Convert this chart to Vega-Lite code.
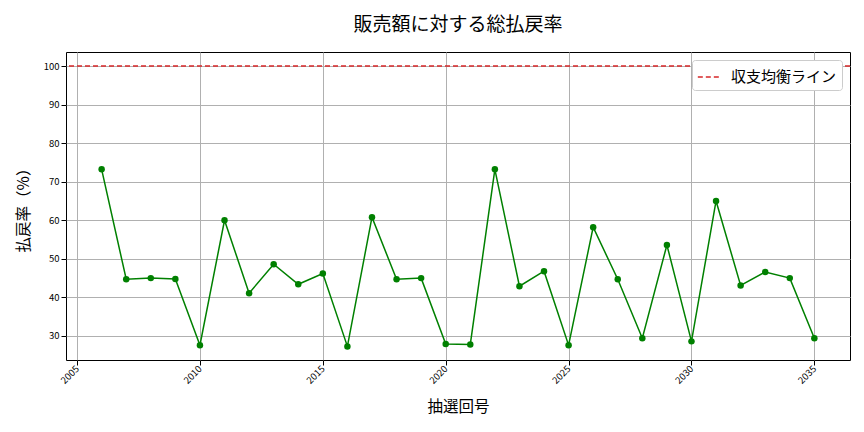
{
  "$schema": "https://vega.github.io/schema/vega-lite/v6.json",
  "autosize": "none",
  "width": 784,
  "height": 308,
  "padding": {"left": 66, "top": 52, "right": 14, "bottom": 72},
  "background": "white",
  "title": {
    "text": "販売額に対する総払戻率",
    "font": "Noto Sans CJK JP",
    "fontSize": 19,
    "fontWeight": "normal",
    "color": "black",
    "offset": 17
  },
  "config": {
    "font": "Noto Sans CJK JP",
    "view": {"stroke": "black", "strokeWidth": 1},
    "axis": {
      "labelFont": "Noto Sans CJK JP",
      "labelFontSize": 9.5,
      "labelColor": "black",
      "titleFont": "Noto Sans CJK JP",
      "titleFontSize": 15.5,
      "titleFontWeight": "normal",
      "titleColor": "black",
      "gridColor": "#b0b0b0",
      "gridOpacity": 1,
      "tickColor": "black",
      "domain": false
    }
  },
  "layer": [
    {
      "data": {"values": [
        {"draw": 2006, "rate": 73.2},
        {"draw": 2007, "rate": 44.7},
        {"draw": 2008, "rate": 45.0},
        {"draw": 2009, "rate": 44.8},
        {"draw": 2010, "rate": 27.6},
        {"draw": 2011, "rate": 60.0},
        {"draw": 2012, "rate": 41.1},
        {"draw": 2013, "rate": 48.6},
        {"draw": 2014, "rate": 43.4},
        {"draw": 2015, "rate": 46.2},
        {"draw": 2016, "rate": 27.3},
        {"draw": 2017, "rate": 60.8},
        {"draw": 2018, "rate": 44.7},
        {"draw": 2019, "rate": 45.0},
        {"draw": 2020, "rate": 27.9},
        {"draw": 2021, "rate": 27.8},
        {"draw": 2022, "rate": 73.2},
        {"draw": 2023, "rate": 42.9},
        {"draw": 2024, "rate": 46.8},
        {"draw": 2025, "rate": 27.6},
        {"draw": 2026, "rate": 58.2},
        {"draw": 2027, "rate": 44.7},
        {"draw": 2028, "rate": 29.4},
        {"draw": 2029, "rate": 53.6},
        {"draw": 2030, "rate": 28.6},
        {"draw": 2031, "rate": 65.0},
        {"draw": 2032, "rate": 43.1},
        {"draw": 2033, "rate": 46.6},
        {"draw": 2034, "rate": 45.0},
        {"draw": 2035, "rate": 29.4}
      ]},
      "mark": {"type": "line", "color": "green", "strokeWidth": 1.5, "point": {"color": "green", "filled": true, "size": 42, "opacity": 1}},
      "encoding": {
        "x": {
          "field": "draw",
          "type": "quantitative",
          "title": "抽選回号",
          "scale": {"domain": [2004.55, 2036.45], "nice": false, "zero": false},
          "axis": {"values": [2005, 2010, 2015, 2020, 2025, 2030, 2035], "format": "d", "labelAngle": -45, "labelAlign": "right", "labelBaseline": "middle", "titlePadding": 14}
        },
        "y": {
          "field": "rate",
          "type": "quantitative",
          "title": "払戻率（%）",
          "scale": {"domain": [23.77, 103.63], "nice": false, "zero": false},
          "axis": {"values": [30, 40, 50, 60, 70, 80, 90, 100], "titlePadding": 12}
        }
      }
    },
    {
      "data": {"values": [{"level": 100, "name": "収支均衡ライン"}]},
      "mark": {"type": "rule", "strokeDash": [5, 3], "strokeWidth": 1.5},
      "encoding": {
        "y": {"field": "level", "type": "quantitative"},
        "color": {
          "field": "name",
          "type": "nominal",
          "scale": {"range": ["#d62728"]},
          "legend": {
            "title": null,
            "orient": "top-right",
            "offset": 8,
            "symbolType": "stroke",
            "symbolDash": [5, 3],
            "symbolStrokeWidth": 1.5,
            "symbolSize": 500,
            "labelFontSize": 15,
            "labelFont": "Noto Sans CJK JP",
            "labelColor": "black",
            "labelOffset": 10,
            "fillColor": "white",
            "strokeColor": "#cccccc",
            "cornerRadius": 3,
            "padding": 5
          }
        }
      }
    }
  ]
}
